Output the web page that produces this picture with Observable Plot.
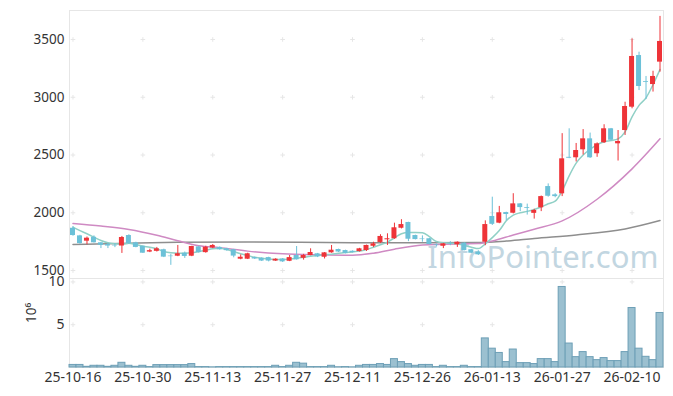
<!DOCTYPE html>
<html><head><meta charset="utf-8">
<script src="https://cdn.jsdelivr.net/npm/d3@7"></script>
<script src="https://cdn.jsdelivr.net/npm/@observablehq/plot@0.6"></script>
<style>
body{margin:0;background:#fff;}
#chart{position:relative;width:673px;height:396px;}
#chart svg{position:absolute;left:0;overflow:visible;}
</style></head><body><div id="chart"></div>
<script>
const dates = ["2025-10-16","2025-10-17","2025-10-20","2025-10-21","2025-10-22","2025-10-23","2025-10-24","2025-10-27","2025-10-28","2025-10-29",
"2025-10-30","2025-10-31","2025-11-03","2025-11-04","2025-11-05","2025-11-06","2025-11-07","2025-11-10","2025-11-11","2025-11-12",
"2025-11-13","2025-11-14","2025-11-17","2025-11-18","2025-11-19","2025-11-20","2025-11-21","2025-11-24","2025-11-25","2025-11-26",
"2025-11-27","2025-11-28","2025-12-01","2025-12-02","2025-12-03","2025-12-04","2025-12-05","2025-12-08","2025-12-09","2025-12-10",
"2025-12-11","2025-12-12","2025-12-15","2025-12-16","2025-12-17","2025-12-18","2025-12-19","2025-12-22","2025-12-23","2025-12-24",
"2025-12-26","2025-12-29","2025-12-30","2026-01-02","2026-01-05","2026-01-06","2026-01-07","2026-01-08","2026-01-09","2026-01-12",
"2026-01-13","2026-01-14","2026-01-15","2026-01-16","2026-01-19","2026-01-20","2026-01-21","2026-01-22","2026-01-23","2026-01-26",
"2026-01-27","2026-01-28","2026-01-29","2026-01-30","2026-02-02","2026-02-03","2026-02-04","2026-02-05","2026-02-06","2026-02-09",
"2026-02-10","2026-02-11","2026-02-12","2026-02-13","2026-02-19"];
const open = [1866,1800,1754,1788,1740,1725,1718,1712,1803,1740,
1710,1660,1666,1680,1625,1624,1650,1624,1705,1655,
1695,1700,1688,1680,1598,1598,1612,1606,1612,1582,
1600,1580,1630,1606,1630,1645,1615,1653,1682,1673,
1667,1664,1673,1710,1743,1766,1775,1866,1916,1803,
1773,1775,1722,1710,1735,1723,1737,1680,1660,1745,
1968,1910,2002,1996,2077,2045,1995,2043,2227,2155,
2164,2480,2476,2545,2640,2511,2606,2727,2597,2712,
2914,3361,3135,3110,3304];
const close = [1803,1733,1780,1740,1718,1712,1713,1786,1733,1700,
1650,1672,1688,1616,1620,1645,1622,1708,1655,1702,
1717,1680,1672,1625,1615,1645,1600,1582,1582,1598,
1575,1612,1593,1630,1656,1618,1653,1676,1660,1648,
1656,1688,1717,1731,1795,1775,1870,1898,1771,1768,
1768,1725,1716,1731,1730,1745,1673,1650,1636,1898,
1900,2000,1985,2077,2045,2038,2020,2140,2143,2140,
2467,2472,2539,2640,2476,2597,2727,2628,2617,2920,
3353,3093,3128,3180,3483];
const high = [1881,1805,1790,1800,1742,1735,1732,1795,1810,1745,
1712,1685,1700,1685,1640,1717,1660,1710,1710,1710,
1725,1705,1692,1683,1635,1650,1616,1610,1615,1602,
1604,1630,1708,1640,1688,1648,1656,1717,1685,1676,
1670,1692,1720,1745,1810,1818,1910,1940,1918,1806,
1800,1778,1730,1735,1750,1748,1740,1683,1672,1930,
2135,2055,2005,2165,2080,2075,2030,2145,2250,2165,
2685,2727,2600,2720,2690,2605,2762,2730,2712,2957,
3505,3390,3180,3225,3700];
const low = [1797,1728,1723,1738,1690,1690,1698,1648,1725,1697,
1648,1655,1660,1612,1545,1620,1605,1620,1650,1650,
1690,1676,1668,1610,1593,1595,1596,1578,1575,1579,
1570,1577,1590,1590,1628,1612,1600,1650,1656,1644,
1652,1660,1665,1700,1735,1717,1770,1860,1750,1765,
1745,1722,1705,1690,1715,1700,1670,1646,1630,1715,
1890,1905,1930,1990,2010,1980,1945,2010,2135,2130,
2140,2468,2440,2500,2470,2480,2600,2620,2448,2669,
2900,3058,2980,3045,3217];
// volume in millions of shares
const volume = [0.3,0.3,0.08,0.2,0.2,0.08,0.2,0.55,0.2,0.08,
0.2,0.05,0.28,0.28,0.28,0.28,0.28,0.4,0.05,0.05,
0.02,0.05,0.05,0.05,0.05,0.05,0.05,0.05,0.05,0.2,
0.05,0.2,0.55,0.45,0.05,0.05,0.05,0.2,0.03,0.05,
0.02,0.2,0.3,0.3,0.4,0.3,0.98,0.63,0.4,0.2,
0.3,0.3,0.05,0.2,0.05,0.05,0.2,0.05,0.05,3.4,
2.2,1.7,0.63,2.1,0.51,0.51,0.4,0.98,0.98,0.63,
9.41,2.8,1.21,1.8,1.21,0.86,1.1,0.75,0.75,1.8,
6.95,2.2,1.25,0.86,6.37];
const ma5 = [1875,1846,1818,1789,1760,1740,1731,1728,1737,1725,
1710,1702,1688,1664,1653,1650,1650,1653,1664,1676,
1688,1693,1682,1664,1645,1630,1615,1606,1601,1595,
1595,1601,1606,1615,1624,1630,1636,1642,1650,1656,
1661,1668,1682,1702,1723,1746,1783,1818,1829,1829,
1826,1794,1751,1740,1737,1731,1717,1702,1690,1731,
1785,1846,1930,1980,2000,2012,2028,2050,2078,2100,
2190,2320,2430,2500,2550,2590,2615,2625,2640,2700,
2830,2930,2995,3110,3240];
const ma20Day = [0,4,8,12,15,18,21,25,30,35,40,43,46,50,55,58,60,63,66,70,75,80,84];
const ma20 = [1908,1885,1855,1805,1758,1715,1697,1668,1645,1636,1632,1650,1685,1720,1731,1733,1755,1808,1858,1930,2117,2380,2640];
const ma60Day = [0,8,15,25,40,50,58,62,66,72,79,84];
const ma60 = [1725,1737,1745,1748,1740,1740,1742,1755,1778,1808,1860,1933];
const priceTicks = [1500,2000,2500,3000,3500];
const volTicks = [5,10];
const tickDays = [0,10,20,30,40,50,60,70,80];
const tickLabels = ["25-10-16","25-10-30","25-11-13","25-11-27","25-12-11","25-12-26","26-01-13","26-01-27","26-02-10"];

const FONT = "'Noto Sans', sans-serif";
const UP = "#ee3338", DOWN = "#6cc1d8";
const days = d3.range(dates.length);
const candles = days.map(i => ({i, o: open[i], h: high[i], l: low[i], c: close[i]}));
const ups = candles.filter(d => d.c >= d.o), downs = candles.filter(d => d.c < d.o);
const xOpt = {type: "band", domain: days, padding: 0};
const crossesTop = tickDays.flatMap(i => priceTicks.map(v => ({i, v})));
const crossesVol = tickDays.flatMap(i => volTicks.map(v => ({i, v})));
const styleTop = {fontFamily: FONT, fontSize: "13.5px", color: "#333", overflow: "visible", background: "transparent"};
const styleVol = {fontFamily: FONT, fontSize: "14px", color: "#333", overflow: "visible", background: "transparent"};

const topPlot = Plot.plot({
  width: 673, height: 278, marginLeft: 69, marginRight: 10, marginTop: 10, marginBottom: 0,
  style: styleTop,
  x: {...xOpt, axis: null},
  y: {domain: [1431, 3751], ticks: priceTicks, tickSize: 0, tickPadding: 5, label: null, tickFormat: d => String(d)},
  marks: [
    Plot.frame({stroke: "#e6e6e6"}),
    Plot.dot(crossesTop, {x: "i", y: "v", symbol: "plus", r: 1.6, stroke: "#e6e6e6", strokeWidth: 1}),
    Plot.text(["InfoPointer.com"], {frameAnchor: "bottom-right", dx: -5, dy: -11, fontSize: 31, fill: "#c2d6e1", fontFamily: FONT}),
    Plot.line(ma60Day.map((d, k) => ({i: d, v: ma60[k]})), {x: "i", y: "v", stroke: "#8e8e8e", strokeWidth: 1.5, curve: "monotone-x"}),
    Plot.line(ma20Day.map((d, k) => ({i: d, v: ma20[k]})), {x: "i", y: "v", stroke: "#cf8ac3", strokeWidth: 1.5, curve: "monotone-x"}),
    Plot.line(days.map(i => ({i, v: ma5[i]})), {x: "i", y: "v", stroke: "#90d0c6", strokeWidth: 1.5, curve: "monotone-x"}),
    Plot.ruleX(ups, {x: "i", y1: "l", y2: "h", stroke: UP, strokeWidth: 1}),
    Plot.ruleX(downs, {x: "i", y1: "l", y2: "h", stroke: DOWN, strokeWidth: 1}),
    Plot.barY(ups, {x: "i", y1: "o", y2: "c", fill: UP, insetLeft: 1, insetRight: 1}),
    Plot.barY(downs, {x: "i", y1: "o", y2: "c", fill: DOWN, insetLeft: 1, insetRight: 1})
  ]
});
topPlot.style.top = "0px";

const volPlot = Plot.plot({
  width: 673, height: 118, marginLeft: 69, marginRight: 10, marginTop: 0, marginBottom: 29,
  style: styleVol,
  x: {...xOpt, ticks: tickDays, tickFormat: i => tickLabels[tickDays.indexOf(i)], tickSize: 0, tickPadding: 5, label: null},
  y: {domain: [0, 10.4], ticks: volTicks, tickSize: 0, tickPadding: 5, label: null, fontSize: 13.5},
  marks: [
    Plot.frame({stroke: "#e6e6e6"}),
    Plot.dot(crossesVol, {x: "i", y: "v", symbol: "plus", r: 1.6, stroke: "#e6e6e6", strokeWidth: 1}),
    Plot.barY(days.map(i => ({i, v: volume[i]})), {x: "i", y: "v", fill: "#9bc0d0", stroke: "#6d9fb6", strokeWidth: 1}),
    Plot.text(["10⁶"], {frameAnchor: "left", dx: -38, rotate: -90, fontSize: 13.5, fill: "#333"})
  ]
});
volPlot.style.top = "278px";

const el = document.getElementById("chart");
el.append(topPlot, volPlot);
</script></body></html>
